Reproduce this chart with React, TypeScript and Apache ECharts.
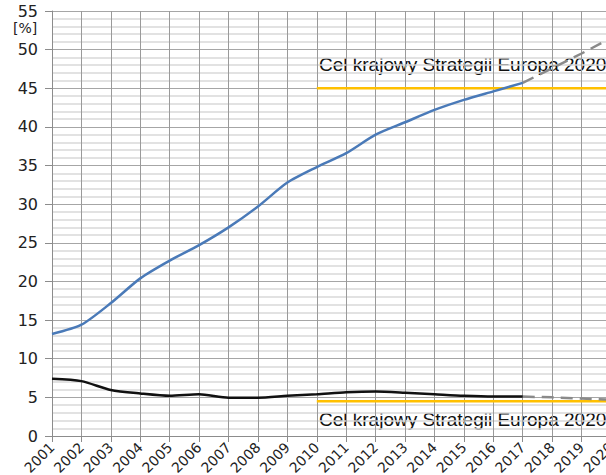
import React, { useEffect, useRef } from "react";
import * as echarts from "echarts";

const years = ["2001","2002","2003","2004","2005","2006","2007","2008","2009","2010","2011","2012","2013","2014","2015","2016","2017","2018","2019","2020"];
const higherEdu = [13.2, 14.4, 17.2, 20.4, 22.7, 24.7, 27.0, 29.7, 32.8, 34.8, 36.6, 39.0, 40.6, 42.2, 43.5, 44.6, 45.7, null, null, null];
const higherEduForecast = [null, null, null, null, null, null, null, null, null, null, null, null, null, null, null, null, 45.7, 47.6, 49.5, 51.5];
const earlyLeavers = [7.4, 7.1, 5.95, 5.5, 5.2, 5.4, 4.96, 4.96, 5.2, 5.4, 5.65, 5.75, 5.6, 5.4, 5.2, 5.1, 5.1, null, null, null];
const earlyLeaversForecast = [null, null, null, null, null, null, null, null, null, null, null, null, null, null, null, null, 5.1, 5.0, 4.85, 4.7];
const targetHigher = [null, null, null, null, null, null, null, null, null, 45, 45, 45, 45, 45, 45, 45, 45, 45, 45, 45];
const targetLeavers = [null, null, null, null, null, null, null, null, null, 4.5, 4.5, 4.5, 4.5, 4.5, 4.5, 4.5, 4.5, 4.5, 4.5, 4.5];
const targetLabel = "Cel krajowy Strategii Europa 2020";
const unitLabel = "[%]";

export default function App() {
  const ref = useRef<HTMLDivElement>(null);
  useEffect(() => {
    if (!ref.current) return;
    const chart = echarts.init(ref.current, null, { renderer: "svg" });
    const lineBase = { type: "line", symbol: "none", smooth: 0.25, connectNulls: false };
    chart.setOption({
      animation: false,
      backgroundColor: "#ffffff",
      grid: { left: 52, top: 11, width: 559, height: 425, containLabel: false, outerBoundsMode: "none" },
      xAxis: {
        type: "category",
        data: years,
        boundaryGap: false,
        axisLine: { show: true, lineStyle: { color: "#8c8c8c", width: 1 } },
        axisTick: { show: true, alignWithLabel: true, length: 6, lineStyle: { color: "#8c8c8c" } },
        axisLabel: { rotate: 45, fontFamily: "DejaVu Sans", fontSize: 14, color: "#222", margin: 9, interval: 0 },
        splitLine: { show: true, lineStyle: { color: "#9a9a9a", width: 1 } },
      },
      yAxis: {
        type: "value",
        min: 0,
        max: 55,
        interval: 5,
        axisLine: { show: true, lineStyle: { color: "#8c8c8c" } },
        axisTick: { show: true, length: 7, lineStyle: { color: "#8c8c8c" } },
        axisLabel: { fontFamily: "DejaVu Sans", fontSize: 16, color: "#222", margin: 14 },
        splitLine: { show: true, lineStyle: { color: "#a6a6a6", width: 1 } },
        minorTick: { show: false, splitNumber: 5 },
        minorSplitLine: { show: true, lineStyle: { color: "#d9d9d9", width: 1.5 } },
      },
      series: [
        { ...lineBase, data: targetHigher, smooth: false, lineStyle: { color: "#FFC000", width: 2.5 }, z: 2 },
        { ...lineBase, data: targetLeavers, smooth: false, lineStyle: { color: "#FFC000", width: 2.5 }, z: 2 },
        { ...lineBase, data: higherEduForecast, smooth: false, lineStyle: { color: "#8a8a8a", width: 2.5, type: [12, 7] }, z: 3 },
        { ...lineBase, data: earlyLeaversForecast, smooth: false, lineStyle: { color: "#8a8a8a", width: 2.5, type: [12, 7] }, z: 3 },
        { ...lineBase, data: higherEdu, lineStyle: { color: "#4A7AB8", width: 2.5 }, z: 4 },
        { ...lineBase, data: earlyLeavers, lineStyle: { color: "#111111", width: 2.5 }, z: 4 },
      ],
      graphic: [
        { type: "text", left: 13, top: 21, style: { text: unitLabel, fontFamily: "DejaVu Sans", fontSize: 14, fill: "#222" } },
        { type: "text", left: 319, top: 55, style: { text: targetLabel, fontFamily: "Liberation Sans", fontSize: 19, fill: "#111" } },
        { type: "text", left: 319, top: 410, style: { text: targetLabel, fontFamily: "Liberation Sans", fontSize: 19, fill: "#111" } },
      ],
    });
    return () => chart.dispose();
  }, []);
  return <div ref={ref} style={{ width: 606, height: 475, position: "absolute", left: 0, top: 0 }} />;
}
